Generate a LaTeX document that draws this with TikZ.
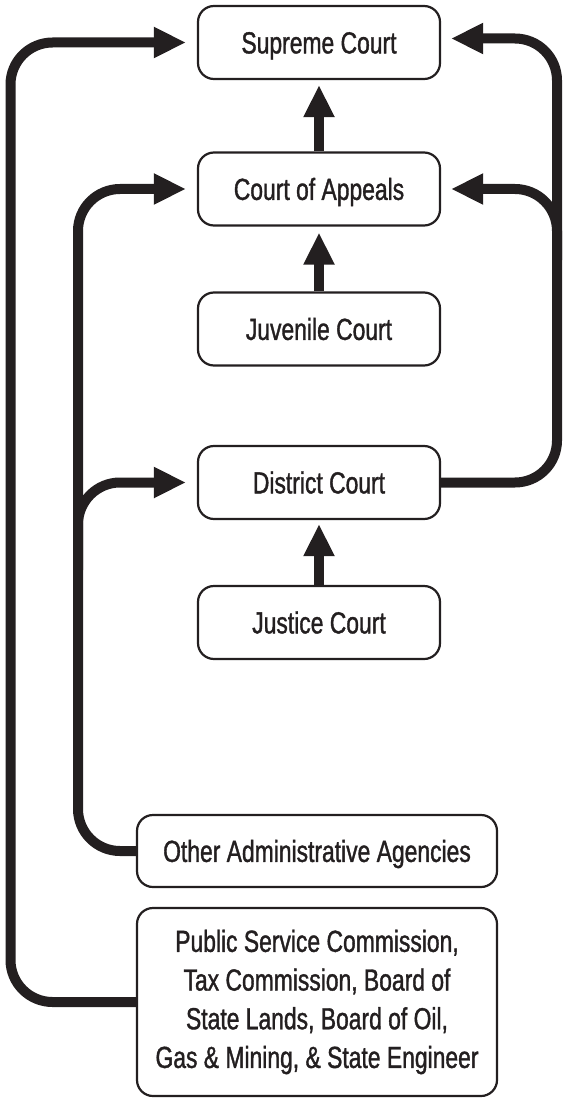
\documentclass[tikz,border=0pt]{standalone}
\usepackage{fontspec}
\setmainfont[FakeStretch=0.75,FakeBold=1.2]{Liberation Sans}
\usetikzlibrary{arrows.meta}
\definecolor{ink}{HTML}{231F20}
\begin{document}
\begin{tikzpicture}[x=1pt,y=-1pt,
  box/.style={draw=ink, line width=2.2pt, rounded corners=16pt, text=ink,
    font=\fontsize{30.5}{38.7}\selectfont, inner sep=0pt},
  smallbox/.style={box, minimum width=242pt, minimum height=73pt, text height=21.8pt, text depth=0pt},
  widebox/.style={box, minimum width=360pt},
  link/.style={draw=ink, line width=10pt, rounded corners=42pt},
  tip/.style={-{Triangle[length=32pt,width=29pt]}}
]
\useasboundingbox (0,0) rectangle (562,1099);

\node[smallbox] (sup) at (319,42.5) {Supreme Court};
\node[smallbox] (coa) at (319,189) {Court of Appeals};
\node[smallbox] (juv) at (319,329) {Juvenile Court};
\node[smallbox] (dis) at (319,482.5) {District Court};
\node[smallbox] (jus) at (319,622.5) {Justice Court};
\node[widebox, minimum height=72pt, text height=21.8pt, text depth=0pt] (oth) at (317,851) {Other Administrative Agencies};
\node[widebox, minimum height=188pt, align=center] (psc) at (317,1002) {Public Service Commission,\\ Tax Commission, Board of\\ State Lands, Board of Oil,\\ Gas \& Mining, \& State Engineer};

\coordinate (lo) at (10.5,0);
\coordinate (li) at (78,0);
\coordinate (lb) at (78,570);
\coordinate (ro) at (557,0);
\coordinate (rb) at (557,260);

% vertical arrows
\draw[link, tip, shorten >=5pt] (coa.north) -- (sup.south);
\draw[link, tip, shorten >=6pt] (juv.north) -- (coa.south);
\draw[link, tip, shorten >=4pt] (jus.north) -- (dis.south);

% left outer
\draw[link, tip, shorten >=11pt] (psc.west) -- (psc.west -| lo) -- (sup.west -| lo) -- (sup.west);
% left inner
\draw[link, tip, shorten >=11pt] (oth.west) -- (oth.west -| li) -- (coa.west -| li) -- (coa.west);
\draw[link, tip, shorten >=11pt] (lb) -- (dis.west -| lb) -- (dis.west);
% right
\draw[link, tip, shorten >=10pt] (dis.east) -- (dis.east -| ro) -- ([yshift=4pt]sup.east -| ro) -- ([yshift=4pt]sup.east);
\draw[link, tip, shorten >=10pt] (rb) -- (coa.east -| rb) -- (coa.east);
\end{tikzpicture}
\end{document}
